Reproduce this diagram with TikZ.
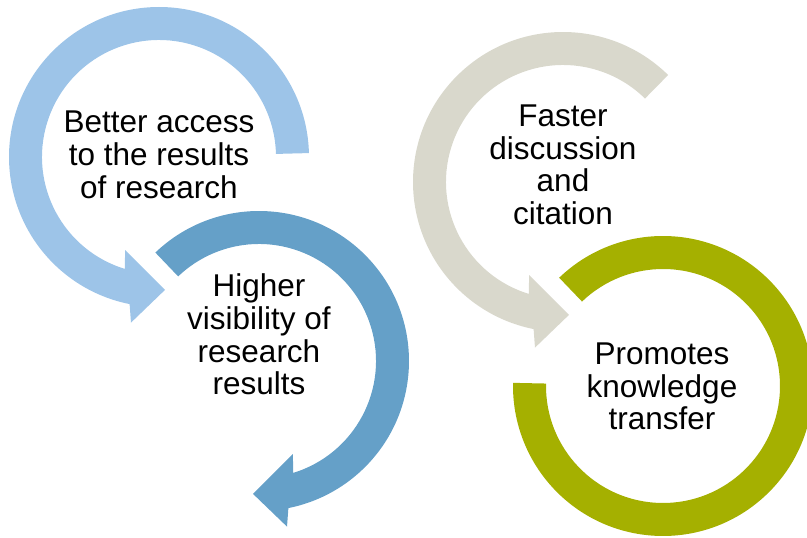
\documentclass[tikz,border=0pt]{standalone}
\usepackage{fontspec}
\setmainfont{Liberation Sans}
\usetikzlibrary{calc}
\definecolor{lightblue}{RGB}{157,196,232}
\definecolor{midblue}{RGB}{101,160,200}
\definecolor{paleGray}{RGB}{217,216,204}
\definecolor{oliveGreen}{RGB}{165,176,0}
\newcommand{\mylines}[1]{\begin{tabular}[t]{@{}c@{}}#1\end{tabular}}
\tikzset{
  label text/.style={anchor=base, inner sep=0pt, outer sep=0pt, text=black,
    font=\fontsize{31.5}{32.5}\selectfont}
}
\begin{document}
\begin{tikzpicture}[x=1pt,y=1pt]
\useasboundingbox (0,0) rectangle (807,538);
\coordinate (c1) at (159,381);
\coordinate (c2) at (259,177);
\coordinate (c3) at (563,356);
\coordinate (c4) at (663,152);
% light blue arrow
\fill[lightblue] ($(c1)+(1.5:150)$) arc[start angle=1.5, end angle=258.7, radius=150]
  -- ($(c1)+(260.4:168)$) -- ($(c1)+(272.6:133)$) -- ($(c1)+(250:99)$)
  -- ($(c1)+(253:117)$) arc[start angle=253, end angle=1.5, radius=117] -- cycle;
% mid blue arrow
\fill[midblue] ($(c2)+(133.7:150)$) arc[start angle=133.7, end angle=-78.7, radius=150]
  -- ($(c2)+(-80.4:168)$) -- ($(c2)+(-92.6:133)$) -- ($(c2)+(-70:99)$)
  -- ($(c2)+(-73:117)$) arc[start angle=-73, end angle=133.7, radius=117] -- cycle;
% gray arrow
\fill[paleGray] ($(c3)+(45.5:150)$) arc[start angle=45.5, end angle=258.7, radius=150]
  -- ($(c3)+(260.4:168)$) -- ($(c3)+(272.6:133)$) -- ($(c3)+(250:99)$)
  -- ($(c3)+(253:117)$) arc[start angle=253, end angle=45.5, radius=117] -- cycle;
% olive ring
\fill[oliveGreen] ($(c4)+(133.8:150)$) arc[start angle=133.8, end angle=-181.2, radius=150]
  -- ($(c4)+(-181.2:117)$) arc[start angle=-181.2, end angle=133.8, radius=117] -- cycle;
% texts
\node[label text] (t1) at (159,405) {\mylines{Better access\\to the results\\of research}};
\node[label text] (t2) at (259,241) {\mylines{Higher\\visibility of\\research\\results}};
\node[label text] (t3) at (563,411.3) {\mylines{Faster\\discussion\\and\\citation}};
\node[label text] (t4) at (662,173.5) {\mylines{Promotes\\knowledge\\transfer}};
\end{tikzpicture}
\end{document}
